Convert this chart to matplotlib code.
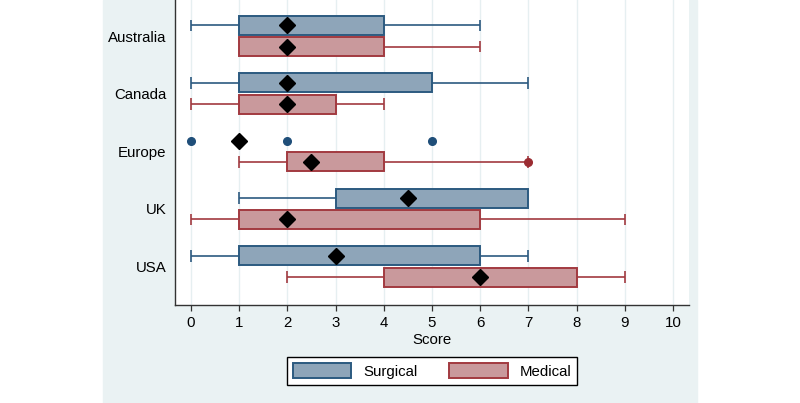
import numpy as np
import matplotlib.pyplot as plt
from matplotlib.patches import Patch, Rectangle

plt.rcParams['font.family'] = ['Liberation Sans', 'DejaVu Sans']

regions = ['Australia', 'Canada', 'Europe', 'UK', 'USA']

# surgical: lower whisker, q1, q3, upper whisker, mean
surg_lo = [0, 0, 1, 1, 0]
surg_q1 = [1, 1, 1, 3, 1]
surg_q3 = [4, 5, 1, 7, 6]
surg_hi = [6, 7, 1, 7, 7]
surg_mean = [2, 2, 1, 4.5, 3]
surg_out = {2: [0, 2, 5]}

# medical
med_lo = [1, 0, 1, 0, 2]
med_q1 = [1, 1, 2, 1, 4]
med_q3 = [4, 3, 4, 6, 8]
med_hi = [6, 4, 7, 9, 9]
med_mean = [2, 2, 2.5, 2, 6]
med_out = {2: [7]}

xticks = list(range(0, 11))

surg_face, surg_edge, surg_pt = '#8ea5b9', '#2c5a80', '#1f4e79'
med_face, med_edge, med_pt = '#c9999c', '#a23a40', '#9b2c32'

fig = plt.figure(figsize=(8, 4.03), dpi=100)
fig.patches.append(Rectangle((103 / 800, 0), (697 - 103) / 800, 1,
                             transform=fig.transFigure, color='#eaf2f3', zorder=-10))
ax = fig.add_axes([175 / 800, 98 / 403, (689 - 175) / 800, 305 / 403])
ax.set_facecolor('white')

y = np.arange(len(regions))
off = 0.185
h = 0.33
cap = 0.1


def draw_group(pos, lo, q1, q3, hi, mean, outs, face, edge, pt):
    for i, yy in enumerate(pos):
        if q3[i] > q1[i]:
            ax.barh(yy, q3[i] - q1[i], left=q1[i], height=h, color=face,
                    edgecolor=edge, linewidth=1.4, zorder=3)
        if lo[i] < q1[i]:
            ax.hlines(yy, lo[i], q1[i], color=edge, lw=1.2, zorder=2)
            ax.vlines(lo[i], yy - cap, yy + cap, color=edge, lw=1.2, zorder=2)
        if hi[i] > q3[i]:
            ax.hlines(yy, q3[i], hi[i], color=edge, lw=1.2, zorder=2)
            ax.vlines(hi[i], yy - cap, yy + cap, color=edge, lw=1.2, zorder=2)
        ax.plot(mean[i], yy, marker='D', color='black', markersize=8, zorder=5)
    for i, vals in outs.items():
        ax.plot(vals, [pos[i]] * len(vals), 'o', color=pt, markersize=5.5, zorder=4)


draw_group(y - off, surg_lo, surg_q1, surg_q3, surg_hi, surg_mean, surg_out,
           surg_face, surg_edge, surg_pt)
draw_group(y + off, med_lo, med_q1, med_q3, med_hi, med_mean, med_out,
           med_face, med_edge, med_pt)

ax.set_xlim(-0.33, 10.33)
ax.set_ylim(4.67, -0.625)
ax.set_xticks(xticks)
ax.set_yticks(y)
ax.set_yticklabels(regions, fontsize=10.8)
ax.tick_params(axis='x', labelsize=10.8, length=4, width=0.9, color='#333333', pad=4)
ax.tick_params(axis='y', length=0, pad=6)
ax.grid(axis='x', color='#e6eff1', lw=1, zorder=0)
ax.set_axisbelow(True)
for s in ['top', 'right']:
    ax.spines[s].set_visible(False)
for s in ['left', 'bottom']:
    ax.spines[s].set_color('#333333')
    ax.spines[s].set_linewidth(1.0)
ax.set_xlabel('Score', fontsize=10.8, labelpad=2)

handles = [Patch(facecolor=surg_face, edgecolor=surg_edge, lw=1.4, label='Surgical'),
           Patch(facecolor=med_face, edgecolor=med_edge, lw=1.4, label='Medical')]
leg = fig.legend(handles=handles, loc='center', bbox_to_anchor=(432 / 800, 1 - 371 / 403),
                 ncol=2, fontsize=10.8, frameon=True, fancybox=False, edgecolor='black',
                 framealpha=1, handlelength=3.9, handleheight=1.15, columnspacing=2.1,
                 handletextpad=0.8, borderpad=0.4)
leg.get_frame().set_linewidth(1.0)

fig.savefig('out.png', dpi=100)
